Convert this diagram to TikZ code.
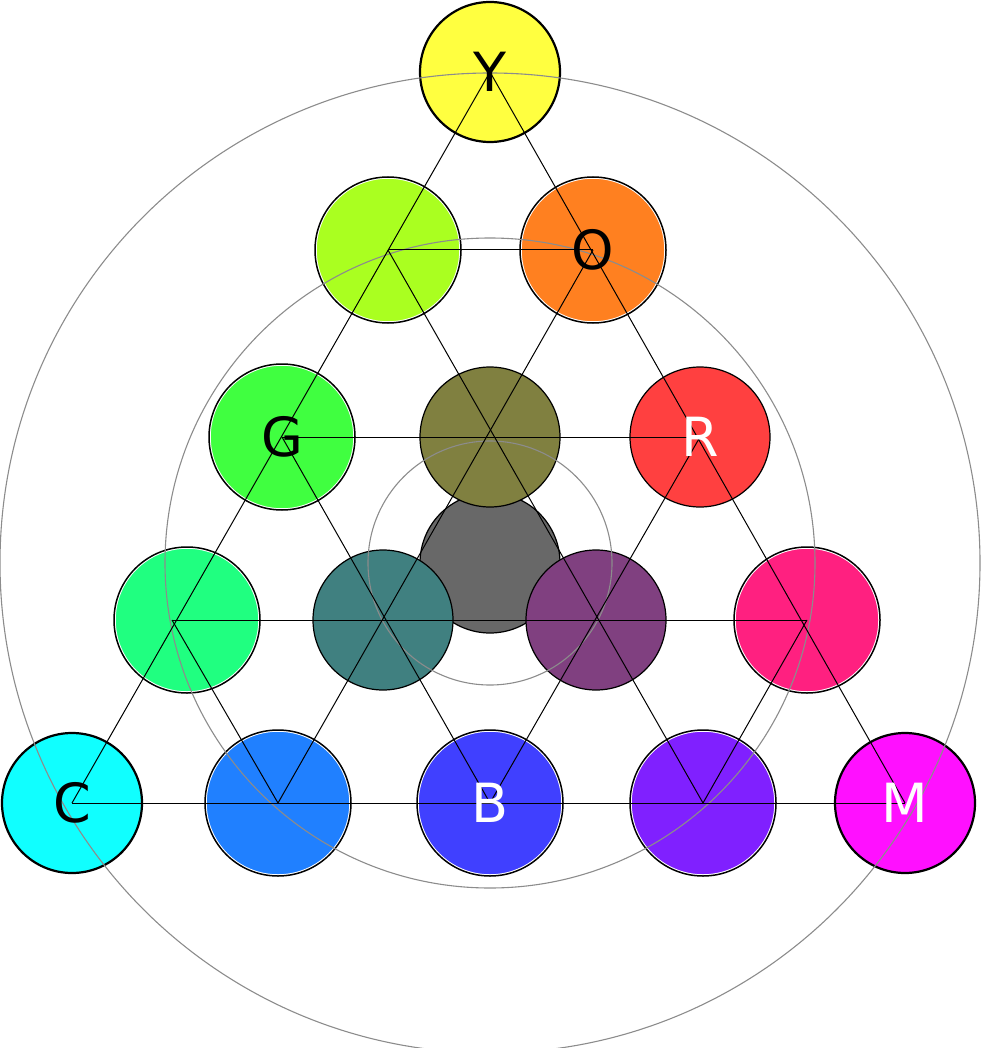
\documentclass[tikz,border=0pt]{standalone}
\usepackage{fontspec}
\setmainfont{DejaVu Sans}
\begin{document}
\begin{tikzpicture}[x=1pt,y=-1pt,
  dot/.style={circle,minimum size=140pt,inner sep=0pt,draw=black,line width=1.2pt,font=\fontsize{54}{54}\selectfont},
  dbl/.style={dot,double=black,double distance=1.5pt,line width=1pt,draw=white,minimum size=146pt},
  thick dot/.style={dot,line width=2.2pt},
  ring/.style={draw=gray!90,line width=1.1pt},
  grid/.style={draw=black,line width=1pt}]
\useasboundingbox (0,0) rectangle (980,1048);
\definecolor{cY}{HTML}{FFFF40}\definecolor{cYG}{HTML}{AAFF20}\definecolor{cO}{HTML}{FF8020}
\definecolor{cG}{HTML}{40FF40}\definecolor{cOl}{HTML}{808040}\definecolor{cR}{HTML}{FF4040}
\definecolor{cGr}{HTML}{686868}\definecolor{cSG}{HTML}{20FF80}\definecolor{cT}{HTML}{408080}
\definecolor{cP}{HTML}{804080}\definecolor{cPk}{HTML}{FF2080}\definecolor{cC}{HTML}{10FFFF}
\definecolor{cAz}{HTML}{2080FF}\definecolor{cB}{HTML}{4040FF}\definecolor{cV}{HTML}{8020FF}
\definecolor{cM}{HTML}{FF10FF}
% nodes
\node[thick dot,fill=cY] (y) at (490,72) {};
\node[dbl,fill=cYG] (yg) at (388,250) {};
\node[dbl,fill=cO] (o) at (593,250) {};
\node[dbl,fill=cG] (g) at (282,437) {};
\node[dot,fill=cR] (r) at (700,437) {};
\node[dot,fill=cGr] (gr) at (490,563) {};
\node[dot,fill=cOl] (ol) at (490,437) {};
\node[dbl,fill=cSG] (sg) at (187,620) {};
\node[dot,fill=cT] (t) at (383,620) {};
\node[dot,fill=cP] (p) at (596,620) {};
\node[dbl,fill=cPk] (pk) at (807,620) {};
\node[thick dot,fill=cC] (c) at (72,803) {};
\node[dbl,fill=cAz] (az) at (278,803) {};
\node[dbl,fill=cB] (b) at (490,803) {};
\node[dbl,fill=cV] (v) at (703,803) {};
\node[thick dot,fill=cM] (m) at (905,803) {};
% grid points
\coordinate (p1l) at (388,250); \coordinate (p1r) at (593,250);
\coordinate (p2l) at (282,437); \coordinate (p2r) at (700,437);
\coordinate (p3l) at (172,620); \coordinate (p3r) at (807,620);
\coordinate (p0) at (490,72); \coordinate (b0) at (72,803); \coordinate (b4) at (905,803);
\coordinate (b1) at (278,803); \coordinate (b2) at (490,803); \coordinate (b3) at (703,803);
% rings
\path[ring] (490,563) circle (122) circle (325) circle (490);
% grid lines
\draw[grid] (p1l)--(p1r) (p2l)--(p2r) (p3l)--(p3r) (b0)--(b4);
\draw[grid] (b0)--(p0)--(b4);
\draw[grid] (b1)--(p1r) (b2)--(p2r) (b3)--(p3r);
\draw[grid] (b3)--(p1l) (b2)--(p2l) (b1)--(p3l);
% labels
\tikzset{lab/.style={font=\fontsize{54}{54}\selectfont,inner sep=0pt}}
\node[lab] at (y) {Y};
\node[lab] at (o) {O};
\node[lab] at (g) {G};
\node[lab,text=white] at (r) {R};
\node[lab] at (c) {C};
\node[lab,text=white] at (b) {B};
\node[lab,text=white] at (m) {M};
\end{tikzpicture}
\end{document}
